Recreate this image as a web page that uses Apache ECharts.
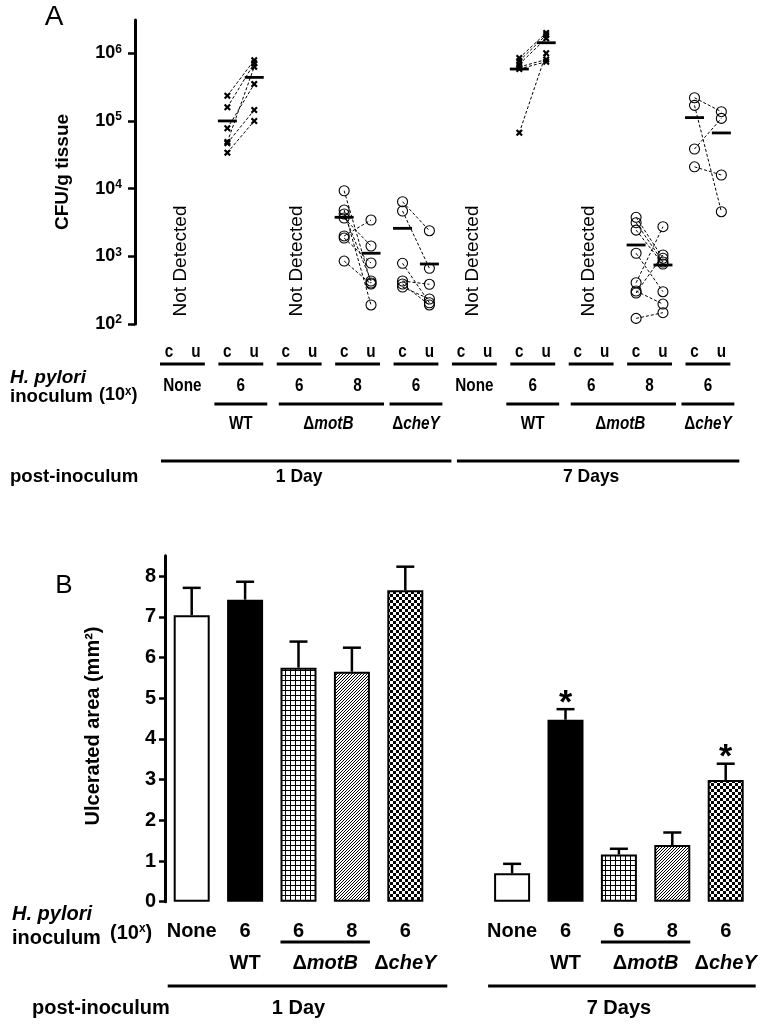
<!DOCTYPE html>
<html><head><meta charset="utf-8">
<script src="https://cdn.jsdelivr.net/npm/echarts@6/dist/echarts.min.js"></script>
<style>html,body{margin:0;padding:0;background:#fff}#c{width:768px;height:1024px}</style>
</head><body><div id="c"></div>
<script>
// ================= DATA =================
// Panel A: CFU/g tissue, paired c / u values (index i of c pairs with index i of u)
const d1WT_c    = [236000, 159000, 78000, 49000, 47000, 34000];
const d1WT_u    = [790000, 710000, 350000, 630000, 145000, 100000];
const d1WT_mean = [100000, 440000];
const d1motB8_c    = [9300, 4830, 4220, 3680, 2000, 1860, 851];
const d1motB8_u    = [403, 191, 432, 1420, 3440, 796, 390];
const d1motB8_mean = [3770, 1110];
const d1cheY_c    = [6410, 4670, 788, 432, 390, 352];
const d1cheY_u    = [2390, 665, 206, 386, 191, 234];
const d1cheY_mean = [2590, 770];
const d7WT_c    = [850000, 770000, 690000, 625000, 585000, 67000];
const d7WT_u    = [2000000, 1860000, 1660000, 810000, 750000, 1000000];
const d7WT_mean = [585000, 1430000];
const d7motB8_c    = [3770, 3140, 2440, 1110, 407, 307, 287, 121];
const d7motB8_u    = [934, 824, 769, 300, 2740, 197, 1045, 147];
const d7motB8_mean = [1470, 744];
const d7cheY_c    = [220000, 170000, 38500, 21000];
const d7cheY_u    = [137000, 4560, 109000, 15900];
const d7cheY_mean = [112000, 66500];
const cfuTicks = [100, 1000, 10000, 100000, 1000000];
const pairLabels = ['c', 'u'];
const notDetectedText = 'Not Detected';

// Panel B: ulcerated area (mm2)
const ulcerCats = ['None', 'WT', 'motB6', 'motB8', 'cheY', '', 'None', 'WT', 'motB6', 'motB8', 'cheY'];
const ulcerMean = [7.04, 7.42, 5.75, 5.65, 7.65, null, 0.70, 4.47, 1.16, 1.39, 2.99];
const ulcerSEM  = [0.67, 0.44, 0.64, 0.59, 0.58, null, 0.23, 0.26, 0.14, 0.31, 0.40];
const ulcerSig  = [0, 0, 0, 0, 0, 0, 0, 1, 0, 0, 1];
const ulcerTicks = [0, 1, 2, 3, 4, 5, 6, 7, 8];

// Shared labels
const inoculumLabels = ['None', '6', '6', '8', '6'];
const dayLabels = ['1 Day', '7 Days'];

// ================= CHART =================
const FONT = '"Liberation Sans", Arial, Helvetica, sans-serif';
const chart = echarts.init(document.getElementById('c'), null, {renderer: 'canvas', width: 768, height: 1024});

// group table for panel A (null = not detected)
const cfuGroups = [
  null, [d1WT_c, d1WT_u, d1WT_mean, 'x'], null, [d1motB8_c, d1motB8_u, d1motB8_mean, 'o'], [d1cheY_c, d1cheY_u, d1cheY_mean, 'o'],
  null, [d7WT_c, d7WT_u, d7WT_mean, 'x'], null, [d7motB8_c, d7motB8_u, d7motB8_mean, 'o'], [d7cheY_c, d7cheY_u, d7cheY_mean, 'o']
];
const U_OFF = 0.92;
const cx = g => 2 * g, ux = g => 2 * g + U_OFF;

const xPts = [], oPts = [], meanPts = [], pairLines = [];
cfuGroups.forEach((grp, g) => {
  if (!grp) return;
  const [c, u, m, mk] = grp;
  const target = mk === 'x' ? xPts : oPts;
  c.forEach((v, i) => {
    target.push([cx(g), v]);
    target.push([ux(g), u[i]]);
    pairLines.push({coords: [[cx(g), v], [ux(g), u[i]]]});
  });
  meanPts.push([cx(g), m[0]], [ux(g), m[1]]);
});

function makePattern(kind) {
  const cv = document.createElement('canvas');
  const ctx = cv.getContext('2d');
  if (kind === 'grid') {
    cv.width = 5; cv.height = 5;
    ctx.fillStyle = '#fff'; ctx.fillRect(0, 0, 5, 5);
    ctx.fillStyle = '#000'; ctx.fillRect(0, 0, 5, 1); ctx.fillRect(0, 0, 1, 5);
  } else if (kind === 'hatch') {
    cv.width = 3; cv.height = 3;
    ctx.fillStyle = '#fff'; ctx.fillRect(0, 0, 3, 3);
    ctx.fillStyle = '#000';
    for (let i = 0; i < 3; i++) ctx.fillRect(i, 2 - i, 1, 1);
  } else if (kind === 'checker') {
    cv.width = 6; cv.height = 6;
    ctx.fillStyle = '#fff'; ctx.fillRect(0, 0, 6, 6);
    ctx.fillStyle = '#000'; ctx.fillRect(0, 0, 3, 3); ctx.fillRect(3, 3, 3, 3);
  }
  return cv;
}
const fills = {
  None: '#fff', WT: '#000',
  motB6: {image: makePattern('grid'), repeat: 'repeat'},
  motB8: {image: makePattern('hatch'), repeat: 'repeat'},
  cheY: {image: makePattern('checker'), repeat: 'repeat'}
};

const barData = ulcerCats.map((k, i) => ulcerMean[i] == null ? '-' : {
  value: ulcerMean[i], itemStyle: {color: fills[k], borderColor: '#000', borderWidth: 2}
});
const errData = [];
ulcerMean.forEach((m, i) => { if (m != null) errData.push([i, m, ulcerSEM[i], ulcerSig[i]]); });

const X_PATH = 'path://M0,2.2L2.2,0L5,2.8L7.8,0L10,2.2L7.2,5L10,7.8L7.8,10L5,7.2L2.2,10L0,7.8L2.8,5Z';

chart.setOption({
  animation: false,
  backgroundColor: '#fff',
  grid: [
    {left: 135, top: 20, width: 610, height: 304},
    {left: 165, top: 555.7, width: 587.4, height: 346}
  ],
  xAxis: [
    {type: 'value', gridIndex: 0, min: -1.164, max: 19.73, show: false},
    {type: 'category', gridIndex: 1, data: ulcerCats, axisLine: {show: false}, axisTick: {show: false}, axisLabel: {show: false}}
  ],
  yAxis: [
    {type: 'log', gridIndex: 0, logBase: 10, min: 100, max: 3100000,
      axisLine: {show: true, onZero: false, lineStyle: {color: '#000', width: 3}},
      axisTick: {show: true, length: 7, lineStyle: {color: '#000', width: 2.5}, customValues: cfuTicks},
      splitLine: {show: false},
      axisLabel: {customValues: cfuTicks, margin: 13, color: '#000',
        formatter: v => '{b|10}{s|' + Math.round(Math.log10(v)) + '}',
        rich: {
          b: {fontSize: 18, fontWeight: 'bold', fontFamily: FONT, color: '#000', lineHeight: 20},
          s: {fontSize: 12, fontWeight: 'bold', fontFamily: FONT, color: '#000', verticalAlign: 'top', lineHeight: 12}
        }}
    },
    {type: 'value', gridIndex: 1, min: 0, max: 8.5,
      axisLine: {show: true, onZero: false, lineStyle: {color: '#000', width: 3}},
      axisTick: {show: true, length: 6, lineStyle: {color: '#000', width: 2.5}, customValues: ulcerTicks},
      splitLine: {show: false},
      axisLabel: {customValues: ulcerTicks, margin: 9, color: '#000', fontSize: 20, fontWeight: 'bold', fontFamily: FONT}
    }
  ],
  series: [
    {type: 'lines', coordinateSystem: 'cartesian2d', xAxisIndex: 0, yAxisIndex: 0, data: pairLines, silent: true, z: 2,
      lineStyle: {color: '#000', width: 1, type: [3, 2], opacity: 1, curveness: 0}},
    {type: 'scatter', xAxisIndex: 0, yAxisIndex: 0, data: xPts, symbol: X_PATH, symbolSize: 7, z: 3,
      itemStyle: {color: '#000', opacity: 1}},
    {type: 'scatter', xAxisIndex: 0, yAxisIndex: 0, data: oPts, symbol: 'circle', symbolSize: 10, z: 3,
      itemStyle: {color: 'rgba(0,0,0,0)', borderColor: '#000', borderWidth: 1.1, opacity: 1}},
    {type: 'scatter', xAxisIndex: 0, yAxisIndex: 0, data: meanPts, symbol: 'rect', symbolSize: [19, 2.8], z: 4,
      itemStyle: {color: '#000', opacity: 1}},
    {type: 'bar', xAxisIndex: 1, yAxisIndex: 1, data: barData, barWidth: 36, z: 2},
    {type: 'custom', xAxisIndex: 1, yAxisIndex: 1, data: errData, z: 3,
      renderItem: (params, api) => {
        const x = api.value(0), m = api.value(1), e = api.value(2), s = api.value(3);
        const p0 = api.coord([x, m]), p1 = api.coord([x, m + e]);
        const ch = [
          {type: 'line', shape: {x1: p0[0], y1: p0[1], x2: p1[0], y2: p1[1]}, style: {stroke: '#000', lineWidth: 2.5}},
          {type: 'line', shape: {x1: p1[0] - 9, y1: p1[1], x2: p1[0] + 9, y2: p1[1]}, style: {stroke: '#000', lineWidth: 2.5}}
        ];
        if (s) ch.push({type: 'text', x: p1[0], y: p1[1] - 6, style: {text: '*', fontSize: 34, fontWeight: 'bold', fontFamily: FONT,
          fill: '#000', align: 'center', verticalAlign: 'middle', textAlign: 'center', textVerticalAlign: 'middle'}});
        return {type: 'group', children: ch};
      }}
  ]
});

// ================= TEXT / DECORATION (positions via axis scales) =================
function txt(x, y, text, o) {
  o = o || {};
  const al = o.align || 'center', va = o.valign || 'middle';
  return {type: 'text', x, y, rotation: o.rotation || 0, scaleX: o.scaleX || 1, silent: true, z: 100,
    style: {text, fill: '#000', fontFamily: FONT, fontSize: o.size || 18, fontWeight: o.weight || 'bold',
      fontStyle: o.italic ? 'italic' : 'normal', align: al, textAlign: al, verticalAlign: va, textVerticalAlign: va, rich: o.rich}};
}
function hline(x1, x2, y, w) {
  return {type: 'line', silent: true, z: 100, shape: {x1, y1: y, x2, y2: y}, style: {stroke: '#000', lineWidth: w || 3}};
}
function richFor(size) {
  return {
    d: {fontSize: size, fontWeight: 'bold', fontFamily: FONT, fill: '#000', color: '#000'},
    i: {fontSize: size, fontWeight: 'bold', fontStyle: 'italic', fontFamily: FONT, fill: '#000', color: '#000'},
    s: {fontSize: Math.round(size * 0.62), fontWeight: 'bold', fontFamily: FONT, fill: '#000', color: '#000', verticalAlign: 'top', lineHeight: Math.round(size * 0.62)},
    n: {fontSize: size, fontWeight: 'bold', fontFamily: FONT, fill: '#000', color: '#000', lineHeight: size + 2}
  };
}
const strainText = {WT: 'WT', motB: '{d|Δ}{i|motB}', cheY: '{d|Δ}{i|cheY}'};

const g = [];
const pxA = v => chart.convertToPixel({xAxisIndex: 0}, v);
const pxB = v => chart.convertToPixel({xAxisIndex: 1}, v);

// Panel A
const SA = 0.85, FA = 18;
for (let k = 0; k < 10; k++) {
  const c = pxA(cx(k)), u = pxA(ux(k)), mid = (c + u) / 2;
  g.push(txt(c, 352, pairLabels[0], {size: FA, scaleX: SA}));
  g.push(txt(u, 352, pairLabels[1], {size: FA, scaleX: SA}));
  g.push(hline(c - 9, u + 9, 364, 3));
  g.push(txt(mid, 386, inoculumLabels[k % 5], {size: FA, scaleX: SA}));
}
[0, 2, 5, 7].forEach(k => {
  const mid = (pxA(cx(k)) + pxA(ux(k))) / 2 - 2;
  g.push(txt(mid, 261, notDetectedText, {size: 19, weight: 'normal', rotation: Math.PI / 2}));
});
[0, 5].forEach(b => {
  const r = richFor(FA);
  g.push(hline(pxA(cx(b + 1)) - 13, pxA(ux(b + 1)) + 13, 404, 3));
  g.push(hline(pxA(cx(b + 2)) - 7, pxA(ux(b + 3)) + 13, 404, 3));
  g.push(hline(pxA(cx(b + 4)) - 13, pxA(ux(b + 4)) + 13, 404, 3));
  g.push(txt((pxA(cx(b + 1)) + pxA(ux(b + 1))) / 2, 424, strainText.WT, {size: FA, scaleX: SA}));
  g.push(txt((pxA(cx(b + 2)) + pxA(ux(b + 3))) / 2, 424, strainText.motB, {size: FA, scaleX: SA, rich: r}));
  g.push(txt((pxA(cx(b + 4)) + pxA(ux(b + 4))) / 2, 424, strainText.cheY, {size: FA, scaleX: SA, rich: r}));
  const l = pxA(cx(b)), rr = pxA(ux(b + 4));
  g.push(hline(l - (b ? 4 : 8), rr + (b ? 18 : 22), 461, 3));
  g.push(txt((l + rr) / 2, 477, dayLabels[b ? 1 : 0], {size: 19, scaleX: 0.92}));
});
g.push(txt(10, 378, 'H. pylori', {size: 19, italic: true, align: 'left'}));
g.push(txt(10, 397, 'inoculum', {size: 19, align: 'left', scaleX: 0.98}));
g.push(txt(99, 395, '(10{s|x})', {size: 19, align: 'left', scaleX: 0.95, rich: richFor(19)}));
g.push(txt(10, 477, 'post-inoculum', {size: 19, align: 'left', scaleX: 0.98}));
g.push(txt(54, 17, 'A', {size: 28, weight: 'normal'}));
g.push(txt(63, 172, 'CFU/g tissue', {size: 19, rotation: Math.PI / 2}));

// Panel B
const FB = 20;
[0, 6].forEach(b => {
  const r = richFor(FB);
  for (let j = 0; j < 5; j++) g.push(txt(pxB(b + j), 931, inoculumLabels[j], {size: FB}));
  g.push(hline(pxB(b + 2) - 18, pxB(b + 3) + 18, 942, 3));
  g.push(txt(pxB(b + 1), 963, strainText.WT, {size: FB}));
  g.push(txt((pxB(b + 2) + pxB(b + 3)) / 2, 963, strainText.motB, {size: FB, rich: r}));
  g.push(txt(pxB(b + 4), 963, strainText.cheY, {size: FB, rich: r}));
  g.push(hline(pxB(b) - 24, pxB(b + 4) + (b ? 30 : 42), 986, 3));
  g.push(txt((pxB(b) + pxB(b + 4)) / 2, 1008, dayLabels[b ? 1 : 0], {size: FB}));
});
g.push(txt(12, 914, 'H. pylori', {size: FB, italic: true, align: 'left'}));
g.push(txt(12, 938, 'inoculum', {size: FB, align: 'left'}));
g.push(txt(110, 933, '(10{s|x})', {size: FB, align: 'left', rich: richFor(FB)}));
g.push(txt(32, 1008, 'post-inoculum', {size: FB, align: 'left'}));
g.push(txt(64, 586, 'B', {size: 26, weight: 'normal'}));
g.push(txt(93, 726, 'Ulcerated area (mm²)', {size: FB, rotation: Math.PI / 2}));

chart.setOption({graphic: {elements: g}});
</script>
</body></html>
